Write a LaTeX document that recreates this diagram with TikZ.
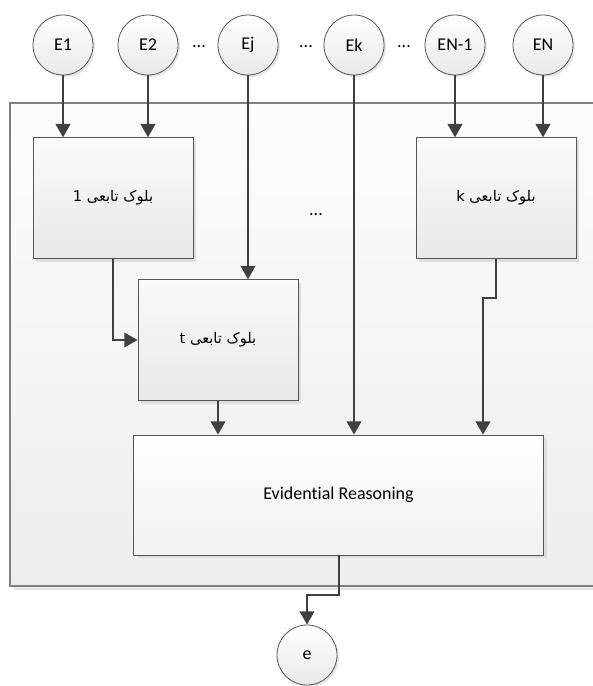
\documentclass[tikz,border=0pt]{standalone}
\usepackage{fontspec}
\setmainfont{Carlito}[Ligatures=NoCommon]
\newfontfamily\arabicfont[Script=Arabic]{DejaVu Sans}
\TeXXeTstate=1
\usetikzlibrary{arrows.meta,shadows}
\definecolor{lineC}{HTML}{404040}
\definecolor{borderC}{HTML}{555555}
\definecolor{frameC}{HTML}{808080}
\tikzset{
  x=0.75pt, y=-0.75pt,
  evnode/.style={circle, draw=borderC, line width=0.6pt, minimum size=45pt, inner sep=0pt,
    top color=white, bottom color=black!9, font=\fontsize{13.5}{15}\selectfont,
    drop shadow={shadow xshift=1.5pt, shadow yshift=-1.5pt, fill=black!10, opacity=1}},
  blockbox/.style={rectangle, draw=borderC, line width=0.6pt, minimum width=120pt, minimum height=90.5pt,
    inner sep=0pt, top color=black!2, bottom color=black!9,
    font=\arabicfont\fontsize{11}{13}\selectfont,
    drop shadow={shadow xshift=2.5pt, shadow yshift=-2.5pt, fill=black!13, opacity=1}},
  erbox/.style={rectangle, draw=borderC, line width=0.6pt, minimum width=308pt, minimum height=90pt,
    inner sep=0pt, top color=white, bottom color=black!6, font=\fontsize{13.5}{15}\selectfont,
    drop shadow={shadow xshift=2.5pt, shadow yshift=-2.5pt, fill=black!13, opacity=1}},
  conn/.style={draw=lineC, line width=1.5pt, -{Triangle[width=11pt,length=10pt]}},
  dotsnode/.style={font=\fontsize{13.5}{15}\selectfont, inner sep=0pt},
}
\begin{document}
\begin{tikzpicture}
\useasboundingbox (0,0) rectangle (593,686);
\fill[white] (0,0) rectangle (593,686);
% frame
\fill[black!10] (14,586) rectangle (600,590);
\shade[top color=black!1, bottom color=black!7] (10,103) rectangle (600,586);
\draw[frameC, line width=1pt] (600,103) -- (10,103) -- (10,586) -- (600,586);
% input circles
\node[evnode] (E1) at (63,45) {E1};
\node[evnode] (E2) at (148,45) {E2};
\node[evnode] (Ej) at (248,45) {Ej};
\node[evnode] (Ek) at (354,45) {Ek};
\node[evnode] (EN1) at (455,45) {EN-1};
\node[evnode] (EN) at (543,45) {EN};
\node[dotsnode] (d1) at (199,47) {...};
\node[dotsnode] (d2) at (306,47) {...};
\node[dotsnode] (d3) at (404,47) {...};
\node[dotsnode] (d4) at (316,215) {...};
% blocks
\node[blockbox] (b1) at (113,198) {\beginR بلوک تابعی 1\endR};
\node[blockbox] (bk) at (496,198) {\beginR بلوک تابعی k\endR};
\node[blockbox] (bt) at (218,340) {\beginR بلوک تابعی t\endR};
\node[erbox] (er) at (338.5,495) {Evidential Reasoning};
\node[evnode] (e) at (307,655) {e};
% junctions
\coordinate (jk) at (483,298);
\coordinate (je) at (307,595);
% connectors
\draw[conn] (E1) -- (E1 |- b1.north);
\draw[conn] (E2) -- (E2 |- b1.north);
\draw[conn] (Ej) -- (Ej |- bt.north);
\draw[conn] (Ek) -- (Ek |- er.north);
\draw[conn] (EN1) -- (EN1 |- bk.north);
\draw[conn] (EN) -- (EN |- bk.north);
\draw[conn] (b1.south) |- (bt.west);
\draw[conn] (bt.south) -- (bt.south |- er.north);
\draw[conn] (bk.south) |- (jk) -- (jk |- er.north);
\draw[conn] (er.south) |- (je) -- (e.north);
\end{tikzpicture}
\end{document}
